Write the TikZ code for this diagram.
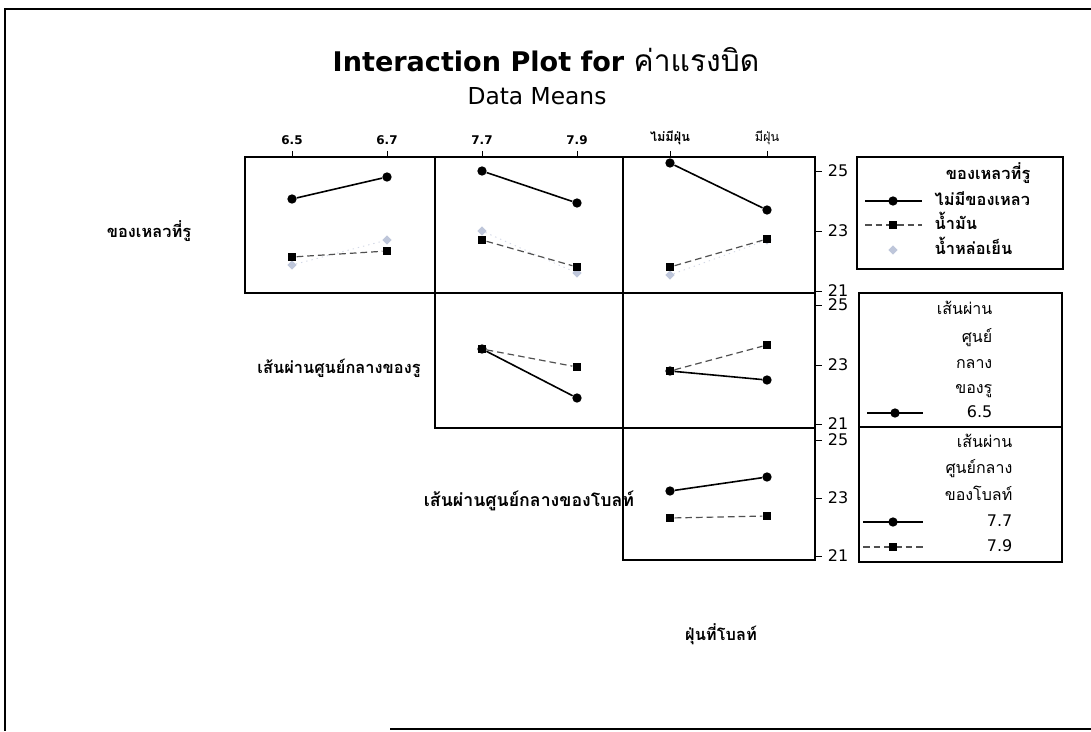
\documentclass[tikz,border=0pt]{standalone}
\usepackage{fontspec}
\setmainfont{DejaVu Sans}
\newfontfamily\thai[Script=Thai]{Loma}
\usetikzlibrary{shapes.geometric}

\definecolor{lgrey}{RGB}{190,198,218}
\definecolor{dkgrey}{RGB}{80,80,80}

\tikzset{
  panel/.style={draw, line width=0.9pt},
  mcirc/.style={circle, fill=black, inner sep=0pt, minimum size=7pt},
  msq/.style={rectangle, fill=black, inner sep=0pt, minimum size=6.5pt},
  mdia/.style={diamond, fill=lgrey, inner sep=0pt, minimum size=7pt},
  solidln/.style={line width=1.2pt},
  dashln/.style={line width=0.9pt, dkgrey, dash pattern=on 5pt off 3pt},
  lightln/.style={line width=0.7pt, lgrey!70, dash pattern=on 1pt off 3pt},
  ytick/.style={font=\fontsize{12}{12}\selectfont},
  xtick/.style={font=\bfseries\fontsize{9}{9}\selectfont},
  thaibox/.style={text height=9pt, text depth=3pt},
  rowlab/.style={thaibox, font=\thai\bfseries\fontsize{12.3}{12}\selectfont},
  legtxt/.style={thaibox, font=\thai\fontsize{12}{12}\selectfont, anchor=east},
}

\begin{document}
\begin{tikzpicture}[x=0.75pt,y=-0.75pt]
\useasboundingbox (0,0) rectangle (1091,731);

% frame
\draw[line width=1pt] (1091,9) -- (5,9) -- (5,731);
\draw[line width=1pt] (390,729) -- (1091,729);

% title
\node[font=\bfseries\fontsize{20.3}{20}\selectfont] (title) at (546,60) {Interaction Plot for {\thai\mdseries\fontsize{22.5}{20}\selectfont ค่าแรงบิด}};
\node[font=\fontsize{17.5}{17}\selectfont] (sub) at (537,96) {Data Means};

% panels
\draw[panel] (245,157) rectangle (815,293);
\draw[panel] (435,157) -- (435,428);
\draw[panel] (623,157) -- (623,560);
\draw[panel] (435,293) rectangle (815,428);
\draw[panel] (623,428) rectangle (815,560);

% top ticks
\foreach \x/\t in {292/6.5,387/6.7,482/7.7,577/7.9} {
  \draw (\x,151) -- (\x,157);
  \node[xtick] (xt\x) at (\x,140) {\t};
}
\draw (670,151) -- (670,157);
\node[xtick, thaibox, font=\thai\bfseries\fontsize{9.5}{9}\selectfont] (xt670) at (670,138) {ไม่มีฝุ่น};
\draw (767,151) -- (767,157);
\node[xtick, thaibox, font=\thai\fontsize{9.5}{9}\selectfont] (xt767) at (767,138) {มีฝุ่น};

% right ticks
\foreach \y/\v in {171/25,231/23,291/21,305/25,365/23,424/21,440/25,498/23,556/21} {
  \draw (815,\y) -- (822,\y);
  \node[ytick] (yt\y) at (838,\y) {\v};
}

% row 1, col 1
\node[mdia] (a1c) at (292,265) {};
\node[mdia] (b1c) at (387,240) {};
\draw[lightln] (a1c) -- (b1c);
\node[msq] (a1s) at (292,257) {};
\node[msq] (b1s) at (387,251) {};
\draw[dashln] (a1s) -- (b1s);
\node[mcirc] (a1n) at (292,199) {};
\node[mcirc] (b1n) at (387,177) {};
\draw[solidln] (a1n) -- (b1n);

% row 1, col 2
\node[mdia] (a2c) at (482,231) {};
\node[mdia] (b2c) at (577,273) {};
\draw[lightln] (a2c) -- (b2c);
\node[msq] (a2s) at (482,240) {};
\node[msq] (b2s) at (577,267) {};
\draw[dashln] (a2s) -- (b2s);
\node[mcirc] (a2n) at (482,171) {};
\node[mcirc] (b2n) at (577,203) {};
\draw[solidln] (a2n) -- (b2n);

% row 1, col 3
\node[mdia] (a3c) at (670,275) {};
\node[mdia] (b3c) at (767,240) {};
\draw[lightln] (a3c) -- (b3c);
\node[msq] (a3s) at (670,267) {};
\node[msq] (b3s) at (767,239) {};
\draw[dashln] (a3s) -- (b3s);
\node[mcirc] (a3n) at (670,163) {};
\node[mcirc] (b3n) at (767,210) {};
\draw[solidln] (a3n) -- (b3n);

% row 2, col 2
\node[mcirc] (a4p) at (482,349) {};
\node[mcirc] (b4p) at (577,398) {};
\draw[solidln] (a4p) -- (b4p);
\node[msq] (a4q) at (482,349) {};
\node[msq] (b4q) at (577,367) {};
\draw[dashln] (a4q) -- (b4q);

% row 2, col 3
\node[mcirc] (a5p) at (670,371) {};
\node[mcirc] (b5p) at (767,380) {};
\draw[solidln] (a5p) -- (b5p);
\node[msq] (a5q) at (670,371) {};
\node[msq] (b5q) at (767,345) {};
\draw[dashln] (a5q) -- (b5q);

% row 3, col 3
\node[mcirc] (a6p) at (670,491) {};
\node[mcirc] (b6p) at (767,477) {};
\draw[solidln] (a6p) -- (b6p);
\node[msq] (a6q) at (670,518) {};
\node[msq] (b6q) at (767,516) {};
\draw[dashln] (a6q) -- (b6q);

% row labels
\node[rowlab] (lab1) at (149,233) {ของเหลวที่รู};
\node[rowlab] (lab2) at (339,369) {เส้นผ่านศูนย์กลางของรู};
\node[rowlab, font=\thai\bfseries\fontsize{13.3}{12}\selectfont] (lab3) at (529,502) {เส้นผ่านศูนย์กลางของโบลท์};
\node[rowlab] (lab4) at (721,636) {ฝุ่นที่โบลท์};

% legend 1
\draw[panel] (857,157) rectangle (1063,269);
\node[legtxt, font=\thai\bfseries\fontsize{12.3}{12}\selectfont] (lg1) at (1035,175) {ของเหลวที่รู};
\coordinate (l1a) at (865,201); \coordinate (l1b) at (922,201);
\draw[solidln] (l1a) -- (l1b);
\node[mcirc] (l1m) at (893,201) {};
\node[thaibox, anchor=west, font=\thai\bfseries\fontsize{12.3}{12}\selectfont] (l1t) at (930,201) {ไม่มีของเหลว};
\coordinate (l2a) at (865,225); \coordinate (l2b) at (922,225);
\draw[dashln] (l2a) -- (l2b);
\node[msq] (l2m) at (893,225) {};
\node[thaibox, anchor=west, font=\thai\bfseries\fontsize{12.3}{12}\selectfont] (l2t) at (930,225) {น้ำมัน};
\node[mdia] (l3m) at (893,250) {};
\node[thaibox, anchor=west, font=\thai\bfseries\fontsize{12.3}{12}\selectfont] (l3t) at (930,250) {น้ำหล่อเย็น};

% legend 2
\draw[panel] (859,293) rectangle (1062,427);
\node[legtxt] (lg2a) at (997,310) {เส้นผ่าน};
\node[legtxt] (lg2b) at (997,338) {ศูนย์};
\node[legtxt] (lg2c) at (997,364) {กลาง};
\node[legtxt] (lg2d) at (997,389) {ของรู};
\node[legtxt, font=\fontsize{12}{12}\selectfont] (lg2e) at (997,413) {6.5};
\coordinate (l4a) at (867,413); \coordinate (l4b) at (923,413);
\draw[solidln] (l4a) -- (l4b);
\node[mcirc] (l4m) at (895,413) {};

% legend 3
\draw[panel] (859,427) rectangle (1062,562);
\node[legtxt] (lg3a) at (1017,443) {เส้นผ่าน};
\node[legtxt] (lg3b) at (1017,469) {ศูนย์กลาง};
\node[legtxt] (lg3c) at (1017,496) {ของโบลท์};
\node[legtxt, font=\fontsize{12}{12}\selectfont] (lg3d) at (1017,522) {7.7};
\node[legtxt, font=\fontsize{12}{12}\selectfont] (lg3e) at (1017,547) {7.9};
\coordinate (l5a) at (863,522); \coordinate (l5b) at (923,522);
\draw[solidln] (l5a) -- (l5b);
\node[mcirc] (l5m) at (893,522) {};
\coordinate (l6a) at (863,547); \coordinate (l6b) at (923,547);
\draw[dashln] (l6a) -- (l6b);
\node[msq] (l6m) at (893,547) {};
\end{tikzpicture}
\end{document}
